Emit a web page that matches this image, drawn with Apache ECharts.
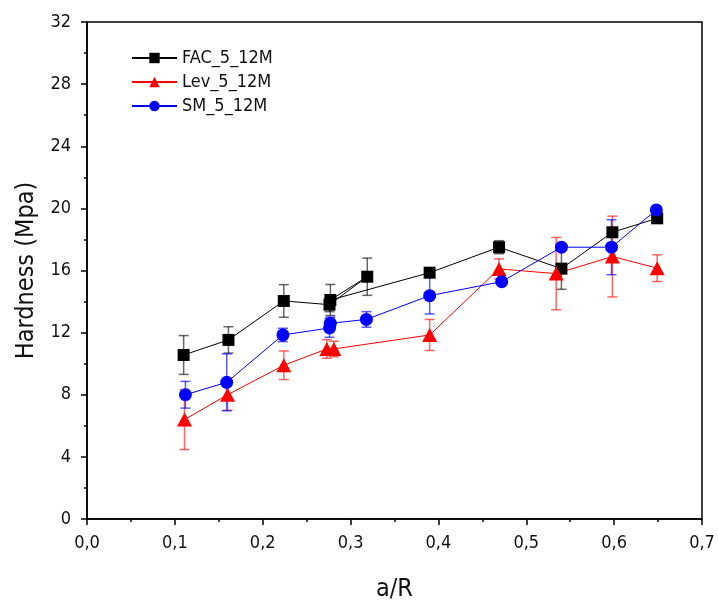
<!DOCTYPE html>
<html><head><meta charset="utf-8">
<script src="https://cdn.jsdelivr.net/npm/echarts@6/dist/echarts.min.js"></script>
<style>html,body{margin:0;padding:0;background:#fff}#c{width:718px;height:608px}</style>
</head><body><div id="c"></div>
<script>
var xTicks = ['0,0','0,1','0,2','0,3','0,4','0,5','0,6','0,7'];
var yTicks = [0,4,8,12,16,20,24,28,32];

var FAC_x   = [0.110, 0.161, 0.224, 0.276, 0.319, 0.277, 0.390, 0.469, 0.540, 0.598, 0.649];
var FAC_y   = [10.56, 11.53, 14.04, 13.80, 15.60, 14.10, 15.86, 17.50, 16.12, 18.46, 19.36];
var FAC_err = [1.25, 0.85, 1.05, 0.45, 1.20, 1.00, 0.20, 0.42, 1.33, 0.20, 0.20];

var LEV_x   = [0.111, 0.160, 0.224, 0.273, 0.281, 0.390, 0.469, 0.534, 0.598, 0.649];
var LEV_y   = [6.40, 8.00, 9.90, 10.95, 10.95, 11.85, 16.10, 15.80, 16.90, 16.15];
var LEV_err = [1.93, 1.00, 0.92, 0.60, 0.50, 1.00, 0.65, 2.33, 2.60, 0.86];

var SM_x   = [0.112, 0.159, 0.223, 0.276, 0.277, 0.318, 0.390, 0.472, 0.540, 0.597, 0.648];
var SM_y   = [8.00, 8.80, 11.85, 12.30, 12.60, 12.85, 14.38, 15.28, 17.50, 17.50, 19.90];
var SM_err = [0.86, 1.83, 0.43, 0.60, 0.40, 0.50, 1.18, 0.10, 0.10, 1.77, 0.10];

var names = ['FAC_5_12M','Lev_5_12M','SM_5_12M'];
var FONT = '"Liberation Sans Narrow", "DejaVu Sans Condensed", "Open Sans", sans-serif';

function pts(xs, ys){ return xs.map(function(x,i){return [x, ys[i]];}); }
function errs(xs, ys, es){ return xs.map(function(x,i){return [x, ys[i]-es[i], ys[i]+es[i]];}); }

function errSeries(xs, ys, es, color){
  return {
    type:'custom', silent:true, z:1,
    data: errs(xs, ys, es),
    renderItem: function(params, api){
      var x = api.value(0);
      var lo = api.coord([x, api.value(1)]);
      var hi = api.coord([x, api.value(2)]);
      var w = 5;
      var st = {stroke: color, lineWidth: 1.5};
      return {type:'group', children:[
        {type:'line', shape:{x1:lo[0],y1:lo[1],x2:hi[0],y2:hi[1]}, style:st},
        {type:'line', shape:{x1:lo[0]-w,y1:lo[1],x2:lo[0]+w,y2:lo[1]}, style:st},
        {type:'line', shape:{x1:hi[0]-w,y1:hi[1],x2:hi[0]+w,y2:hi[1]}, style:st}
      ]};
    }
  };
}

var chart = echarts.init(document.getElementById('c'));
chart.setOption({
  backgroundColor:'#fff',
  animation:false,
  grid:{left:87, right:16, top:22, bottom:89, show:true, borderColor:'#000', borderWidth:1.5, backgroundColor:'transparent'},
  legend:{
    orient:'vertical', left:126, top:43, itemWidth:45, itemHeight:13, itemGap:4,
    textStyle:{fontFamily:FONT, fontSize:18, color:'#111', lineHeight:20},
    data:names
  },
  xAxis:{
    type:'value', min:0, max:0.7, interval:0.1,
    axisLine:{show:true, onZero:false, lineStyle:{color:'#000', width:1.5}},
    axisTick:{show:true, length:6, lineStyle:{color:'#000', width:1.5}},
    minorTick:{show:true, splitNumber:2, length:3, lineStyle:{color:'#000', width:1.5}},
    splitLine:{show:false},
    axisLabel:{fontFamily:FONT, fontSize:18, color:'#111', margin:15,
      formatter:function(v){ return xTicks[Math.round(v*10)]; }},
    name:'a/R', nameLocation:'middle', nameGap:58,
    nameTextStyle:{fontFamily:FONT, fontSize:25, color:'#111'}
  },
  yAxis:{
    type:'value', min:0, max:32, interval:4,
    axisLine:{show:true, onZero:false, lineStyle:{color:'#000', width:1.5}},
    axisTick:{show:true, length:6, lineStyle:{color:'#000', width:1.5}},
    minorTick:{show:true, splitNumber:2, length:3, lineStyle:{color:'#000', width:1.5}},
    splitLine:{show:false},
    axisLabel:{fontFamily:FONT, fontSize:18, color:'#111', margin:16,
      formatter:function(v){ return yTicks.indexOf(v) >= 0 ? String(v) : ''; }},
    name:'Hardness (Mpa)', nameLocation:'middle', nameGap:48,
    nameTextStyle:{fontFamily:FONT, fontSize:25, color:'#111'}
  },
  series:[
    errSeries(FAC_x, FAC_y, FAC_err, 'rgba(0,0,0,0.6)'),
    errSeries(LEV_x, LEV_y, LEV_err, 'rgba(255,0,0,0.6)'),
    errSeries(SM_x, SM_y, SM_err, 'rgba(0,0,255,0.65)'),
    {name:names[0], type:'line', data:pts(FAC_x, FAC_y), symbol:'rect', symbolSize:12,
     itemStyle:{color:'#000'}, lineStyle:{color:'#000', width:1}, z:3},
    {name:names[1], type:'line', data:pts(LEV_x, LEV_y), symbol:'triangle', symbolSize:[15,14],
     itemStyle:{color:'#ff0000'}, lineStyle:{color:'#ff0000', width:1}, z:3},
    {name:names[2], type:'line', data:pts(SM_x, SM_y), symbol:'circle', symbolSize:13,
     itemStyle:{color:'#0000ff'}, lineStyle:{color:'#0000ff', width:1}, z:3}
  ]
});
</script></body></html>
